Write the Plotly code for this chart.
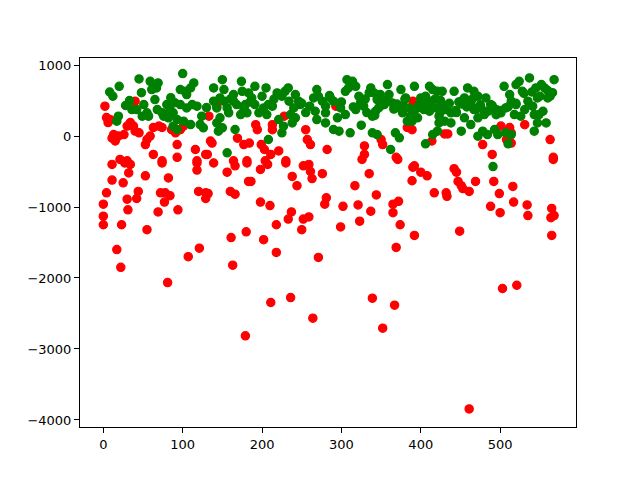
import plotly.graph_objects as go

# ---- red series (x index, value) ----
red_x = [2, 4, 9, 6, 13, 11, 15, 19, 26, 30, 34, 38, 40, 45, 40, 55, 59, 63, 70, 74, 53, 86, 91, 97, 101, 93, 116, 131, 135, 137,
         143, 133, 169, 177, 181, 164, 21, 30, 63, 74, 93, 118, 129,
         11, 27, 34, 32, 74, 118, 118, 139, 166, 156, 181, 11, 25, 53, 82, 183, 4, 0, 30, 42, 44, 72, 78, 84, 77, 69, 94,
         120, 129, 132, 129, 160, 166, 31, 0, 0, 23, 55, 17, 22, 81, 107, 121, 161, 163, 180,
         186, 198, 207, 230, 252, 259, 261, 263, 276, 238, 244, 335, 317, 344, 390, 389, 372, 365, 365, 374, 392, 369,
         198, 210, 237, 233, 252, 259, 250, 281, 279, 302, 321, 323, 299, 337, 218, 202, 218, 271, 326, 371,
         179, 211, 236, 264, 339, 367, 352, 503, 521, 461,
         392, 400, 408, 417, 432, 433, 442, 445, 447, 451, 453, 461, 469, 492, 499, 488, 500, 516, 517, 534, 535,
         565, 564, 568, 565, 567, 449,
         293, 228, 192, 194, 213, 213, 184, 199, 203, 221, 211, 255, 257, 261, 230, 282, 329, 329, 350, 352, 369, 383, 390, 204,
         501, 512, 514, 508, 514, 531, 563, 567, 414, 430, 434, 478, 490, 389]
red_y = [420, 260, 230, 190, 20, -30, -70, 0, 20, 140, 190, 140, 70, 45, 490, -50, 0, 120, 140, 120, -120, 90, 45, 90, 140, -120, -190, -260, -70, -100,
         420, 280, -30, -120, -350, -350, -330, -350, -260, -350, -300, -350, -260,
         -400, -380, -400, -520, -380, -380, -480, -380, -420, -510, -380, -620, -660, -560, -590, -640, -800, -960, -890, -880, -780, -800, -800, -840, -930, -1070, -1040,
         -780, -800, -810, -880, -780, -820, -1040, -1130, -1250, -1250, -1320, -1600, -1850, -2064, -1700, -1580, -1430, -1820, -1350,
         -640, -470, -400, -380, -420, -400, -500, -600, -530, -570, -700, -530, -700, -830, -440, -630, -920, -960, -1080, -1250, -1400, -1570,
         -930, -980, -1070, -1170, -1170, -1140, -1320, -870, -960, -990, -970, -1200, -1280, -1060, -1250, -1460, -1640, -1710, -330, -330,
         -2815, -2345, -2275, -2566, -2285, -2383, -2707, -2148, -2102, -3845,
         -420, -510, -560, -800, -800, -850, -460, -510, -640, -700, -740, -780, -640, -640, -810, -990, -1080, -710, -930, -970, -1120,
         -1020, -1150, -1120, -1400, -330, -1340,
         420, 280, 160, 90, 160, 90, -100, -120, -190, -210, -260, 90, -50, -120, -350, -190, -140, -260, -50, -120, -300, 120, 490, -350,
         140, 120, 45, -50, -100, 160, -50, -300, -70, 30, 30, -120, -260, 90]

# ---- green series (x index, value) ----
green_x = [20, 45, 59, 65, 69, 61, 67, 100, 114, 110, 97, 103, 105, 150, 174, 139, 152, 164, 175,
           65, 51, 42, 36, 55, 57, 49, 68, 74, 80, 84, 76, 82, 88, 97, 105, 112, 118, 101, 93, 110, 124, 122, 126,
           139, 143, 147, 152, 156, 158, 147, 143, 164, 168, 177, 181, 173, 145, 150, 166, 156, 19, 17, 93, 88,
           191, 205, 233, 219, 225, 229, 183, 187, 179, 191, 202, 208, 213, 206, 196, 242, 246, 248, 240, 234,
           221, 227, 238, 242, 236, 225, 208, 269, 271, 265, 276, 280, 267, 269, 280, 286, 290, 299, 305, 295,
           290, 297, 311, 307, 314, 318, 309, 305, 322, 324, 328, 318, 337, 341, 345, 349, 358, 360, 354, 347, 343, 339,
           364, 368, 377, 375, 381, 385, 387, 383, 325, 339, 345, 368, 373, 362, 280,
           392, 411, 415, 421, 427, 400, 406, 413, 398, 404, 411, 419, 427, 432, 438, 423, 430, 438, 389, 396,
           442, 451, 455, 459, 467, 472, 461, 467, 476, 480, 472, 455, 451, 463, 423, 421, 415, 406,
           482, 488, 495, 501, 505, 512, 514, 507, 472, 478, 484, 493, 497, 507, 514, 510,
           520, 524, 528, 520, 518, 526, 531, 535, 537, 545, 552, 556, 560, 547, 541, 543, 549, 554, 558, 547, 543, 568,
           491,
           8, 12, 28, 33, 48, 85, 90, 130, 160, 185, 200, 215, 250, 255, 260, 285, 300, 315, 330, 335, 350, 356,
           370, 380, 395, 402, 408, 418, 425, 436, 445, 448, 458, 465, 470, 485, 490, 495, 500, 510, 520, 530, 540, 550, 560, 563, 566,
           332, 342, 352, 366, 378, 390, 403, 412, 425, 433, 444, 452, 466, 475]
green_y = [700, 804, 771, 724, 748, 654, 677, 879, 748, 677, 654, 630, 584, 794, 771, 677, 654, 584, 630,
           513, 443, 373, 373, 326, 279, 279, 373, 326, 443, 373, 279, 256, 326, 443, 396, 443, 420, 209, 232, 162, 279, 162, 115,
           490, 396, 537, 490, 396, 326, 256, 185, 490, 443, 396, 326, 302, 68, 115, 92, -237, 279, 209, 92, 138,
           700, 677, 677, 607, 560, 630, 607, 537, 443, 443, 396, 443, 420, 302, 326, 584, 490, 443, 396, 490,
           232, 138, 185, 256, 302, 45, -49, 654, 560, 537, 490, 420, 349, 232, 185, 537, 490, 396, 302, 256,
           92, 68, 45, 794, 771, 700, 677, 630, 560, 466, 420, 373, 677, 607, 513, 584, 724, 584, 443, 396, 349, 279,
           466, 396, 326, 654, 537, 396, 279, 209, 152, 45, 21, 45, -26, -190, 326,
           700, 700, 654, 630, 630, 537, 560, 490, 443, 373, 349, 396, 443, 373, 326, 279, 209, 185, 209, 256,
           630, 490, 537, 677, 630, 560, 443, 373, 396, 302, 256, 256, 68, 162, 185, 68, 21, -110,
           537, 443, 373, 326, 700, 584, 490, 396, -2, 68, 21, 92, 21, 45, 21, -110,
           724, 771, 630, 443, 302, 279, 373, 490, 818, 677, 724, 677, 537, 537, 420, 302, 302, 349, 185, 185, 68, 794,
           -430,
           620, 560, 430, 500, 610, 540, 470, 400, 520, 480, 560, 520, 460, 330, 420, 570, 480, 410, 520, 610, 430, 500,
           450, 520, 390, 480, 400, 520, 340, 460, 330, 480, 410, 520, 380, 350, 430, 300, 360, 410, 460, 600, 620, 560, 640, 560, 610,
           330, 290, 480, 380, 420, 330, 460, 400, 500, 420, 360, 450, 400, 440]

fig = go.Figure()
fig.add_trace(go.Scatter(x=red_x, y=red_y, mode="markers",
                         marker=dict(color="#ff0000", size=8.3, line=dict(color="#ff0000", width=1.2)),
                         showlegend=False, hoverinfo="skip"))
fig.add_trace(go.Scatter(x=green_x, y=green_y, mode="markers",
                         marker=dict(color="#008000", size=8.3, line=dict(color="#008000", width=1.2)),
                         showlegend=False, hoverinfo="skip"))

axis_common = dict(showgrid=False, zeroline=False, showline=True, mirror=True,
                   linecolor="black", linewidth=1, ticks="outside", ticklen=5,
                   tickwidth=1, tickcolor="black",
                   tickfont=dict(family="DejaVu Sans", size=13, color="black"))
fig.update_xaxes(range=[-29.4, 595.6], tickvals=[0, 100, 200, 300, 400, 500], **axis_common)
fig.update_yaxes(range=[-4099, 1099], tickvals=[-4000, -3000, -2000, -1000, 0, 1000], **axis_common)
# the page body adds an 8px offset, so margins are shifted to compensate
fig.update_layout(width=640, height=480, margin=dict(l=72, r=72, t=50, b=61, pad=0),
                  plot_bgcolor="white", paper_bgcolor="white")
fig.write_html("out.html")
